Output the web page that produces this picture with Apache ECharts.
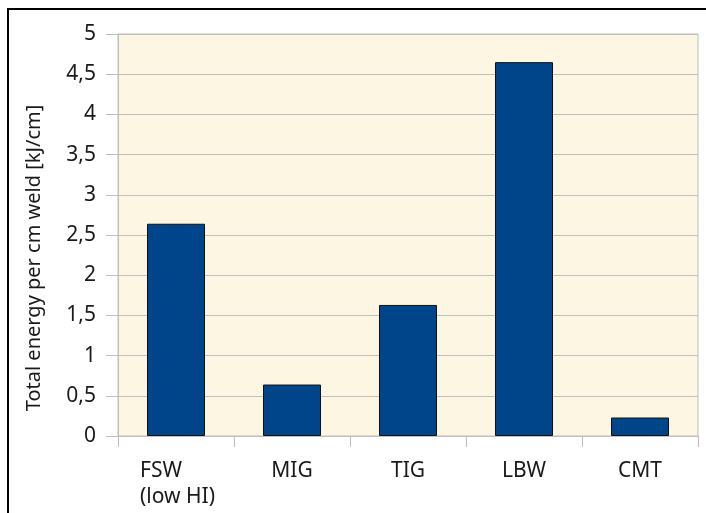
<!DOCTYPE html>
<html>
<head>
<meta charset="utf-8">
<script src="https://cdn.jsdelivr.net/npm/echarts@6/dist/echarts.min.js"></script>
<style>
  html, body { margin: 0; padding: 0; background: #ffffff; }
  #chart { width: 706px; height: 513px; }
</style>
</head>
<body>
<div id="chart"></div>
<script>
// Total energy input per cm of weld for each welding process
const processes = ['FSW\n(low HI)', 'MIG', 'TIG', 'LBW', 'CMT'];
const energyKJperCm = [2.64, 0.64, 1.63, 4.65, 0.23];
const yTicks = { min: 0, max: 5, step: 0.5 };

const FONT = 'Noto Sans';
const LABEL_SIZE = 21;
const chart = echarts.init(document.getElementById('chart'), null, { renderer: 'canvas' });

// Multi-line category names are left-aligned as a block under their tick slot
function categoryLabel(value) {
  if (value.indexOf('\n') < 0) return value;
  return value.split('\n').map(line => '{ml|' + line + '}').join('\n');
}

chart.setOption({
  animation: false,
  backgroundColor: '#ffffff',
  textStyle: { fontFamily: FONT },
  grid: {
    left: 118, top: 34, right: 8, bottom: 77,
    show: true,
    backgroundColor: '#fdf6e2',
    borderColor: '#bfbfbf',
    borderWidth: 1
  },
  graphic: [
    {
      type: 'polyline',
      shape: { points: [[8, 513], [8, 9], [706, 9]] },
      style: { stroke: '#000000', lineWidth: 2, fill: null }
    }
  ],
  xAxis: {
    type: 'category',
    data: processes,
    boundaryGap: true,
    axisLine: { show: true, lineStyle: { color: '#bfbfbf', width: 1 } },
    axisTick: { show: true, interval: 0, length: 11, lineStyle: { color: '#bfbfbf' } },
    axisLabel: {
      interval: 0,
      hideOverlap: false,
      color: '#1a1a1a', fontSize: LABEL_SIZE, lineHeight: 26, margin: 22,
      fontFamily: FONT,
      formatter: categoryLabel,
      rich: {
        ml: {
          width: 72, align: 'left', fontSize: LABEL_SIZE, lineHeight: 26,
          color: '#1a1a1a', fontFamily: FONT
        }
      }
    }
  },
  yAxis: {
    type: 'value',
    min: yTicks.min, max: yTicks.max, interval: yTicks.step,
    name: 'Total energy per cm weld [kJ/cm]',
    nameLocation: 'middle',
    nameGap: 74,
    nameTextStyle: {
      color: '#1a1a1a', fontSize: 20, fontFamily: FONT,
      padding: [0, 46, 0, 0]
    },
    axisLine: { show: true, lineStyle: { color: '#bfbfbf' } },
    axisTick: { show: true, length: 12, inside: false, lineStyle: { color: '#bfbfbf' } },
    axisLabel: {
      color: '#1a1a1a', fontSize: LABEL_SIZE, margin: 22, fontFamily: FONT,
      formatter: v => String(v).replace('.', ',')
    },
    splitLine: { show: true, lineStyle: { color: '#bfbfbf', width: 1 } }
  },
  series: [{
    type: 'bar',
    data: energyKJperCm,
    barCategoryGap: '50%',
    itemStyle: { color: '#00458a', borderColor: '#111111', borderWidth: 1 }
  }]
});
</script>
</body>
</html>
